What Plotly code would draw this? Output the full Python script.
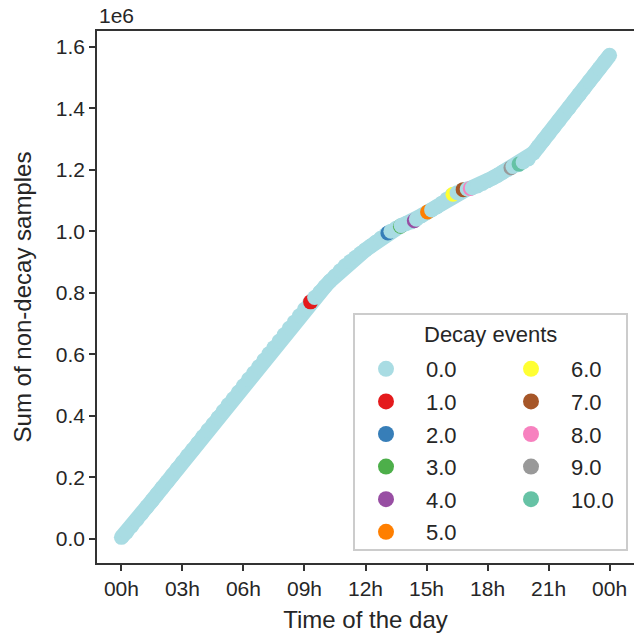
import plotly.graph_objects as go

# ---- data ----
time_h = [
    0.00, 0.25, 0.50, 0.75, 1.00, 1.25, 1.50, 1.75, 2.00, 2.25, 2.50, 2.75,
    3.00, 3.25, 3.50, 3.75, 4.00, 4.25, 4.50, 4.75, 5.00, 5.25, 5.50, 5.75,
    6.00, 6.25, 6.50, 6.75, 7.00, 7.25, 7.50, 7.75, 8.00, 8.25, 8.50, 8.75,
    9.00, 9.25, 9.30, 9.50, 9.75, 10.00, 10.25, 10.50, 10.75, 11.00, 11.25,
    11.50, 11.75, 12.00, 12.25, 12.50, 12.75, 13.00, 13.10, 13.25, 13.50,
    13.72, 13.75, 14.00, 14.25, 14.40, 14.50, 14.75, 15.00, 15.05, 15.25,
    15.50, 15.75, 16.00, 16.25, 16.30, 16.50, 16.75, 16.80, 17.00, 17.15,
    17.25, 17.50, 17.75, 18.00, 18.25, 18.50, 18.75, 19.00, 19.15, 19.25,
    19.50, 19.55, 19.75, 20.00, 20.25, 20.50, 20.75, 21.00, 21.25, 21.50,
    21.75, 22.00, 22.25, 22.50, 22.75, 23.00, 23.25, 23.50, 23.75, 24.00,
]
cum_samples_m = [
    0.005, 0.022, 0.042, 0.062, 0.083, 0.104, 0.124, 0.145, 0.166, 0.186, 0.207, 0.228,
    0.249, 0.270, 0.290, 0.311, 0.332, 0.353, 0.373, 0.394, 0.415, 0.436, 0.456, 0.477,
    0.498, 0.519, 0.539, 0.560, 0.581, 0.602, 0.622, 0.643, 0.664, 0.685, 0.705, 0.726,
    0.747, 0.767, 0.771, 0.785, 0.802, 0.820, 0.838, 0.855, 0.872, 0.888, 0.902,
    0.915, 0.928, 0.940, 0.952, 0.965, 0.978, 0.990, 0.995, 1.001, 1.010,
    1.017, 1.019, 1.026, 1.031, 1.035, 1.040, 1.051, 1.061, 1.063, 1.070,
    1.080, 1.092, 1.105, 1.118, 1.121, 1.126, 1.134, 1.136, 1.138, 1.140,
    1.142, 1.148, 1.156, 1.165, 1.174, 1.183, 1.193, 1.202, 1.207, 1.211,
    1.217, 1.219, 1.226, 1.236, 1.255, 1.276, 1.297, 1.318, 1.339, 1.360,
    1.381, 1.402, 1.424, 1.445, 1.466, 1.488, 1.509, 1.530, 1.552, 1.573,
]
decay_events = [
    0, 0, 0, 0, 0, 0, 0, 0, 0, 0, 0, 0,
    0, 0, 0, 0, 0, 0, 0, 0, 0, 0, 0, 0,
    0, 0, 0, 0, 0, 0, 0, 0, 0, 0, 0, 0,
    0, 0, 1, 0, 0, 0, 0, 0, 0, 0, 0,
    0, 0, 0, 0, 0, 0, 0, 2, 0, 0,
    3, 0, 0, 0, 4, 0, 0, 0, 5, 0,
    0, 0, 0, 0, 6, 0, 0, 7, 0, 8,
    0, 0, 0, 0, 0, 0, 0, 0, 9, 0,
    0, 10, 0, 0, 0, 0, 0, 0, 0, 0,
    0, 0, 0, 0, 0, 0, 0, 0, 0, 0,
]
event_levels = [0, 1, 2, 3, 4, 5, 6, 7, 8, 9, 10]
event_labels = ["0.0", "1.0", "2.0", "3.0", "4.0", "5.0", "6.0", "7.0", "8.0", "9.0", "10.0"]
event_colors = ["#a9dce3", "#e41a1c", "#377eb8", "#4daf4a", "#984ea3", "#ff7f00",
                "#ffff33", "#a65628", "#f781bf", "#999999", "#66c2a5"]
x_tick_vals = [0, 3, 6, 9, 12, 15, 18, 21, 24]
x_tick_text = ["00h", "03h", "06h", "09h", "12h", "15h", "18h", "21h", "00h"]
y_tick_vals = [0.0, 0.2, 0.4, 0.6, 0.8, 1.0, 1.2, 1.4, 1.6]

FONT = "Liberation Sans, Arial, sans-serif"
TXT = "#262626"
SPINE = "#333333"

color_of = dict(zip(event_levels, event_colors))
point_colors = [color_of[d] for d in decay_events]

fig = go.Figure()
# dense band joining the samples (sits under the markers)
fig.add_trace(go.Scatter(
    x=time_h, y=cum_samples_m, mode="lines",
    line=dict(color=event_colors[0], width=15, shape="linear"),
    showlegend=False, hoverinfo="skip",
))
fig.add_trace(go.Scatter(
    x=time_h, y=cum_samples_m, mode="markers",
    marker=dict(size=15, color=point_colors, line=dict(width=0), opacity=1),
    showlegend=False, hoverinfo="x+y",
))

for i, (lvl, lab, col) in enumerate(zip(event_levels, event_labels, event_colors)):
    fig.add_trace(go.Scatter(
        x=[None], y=[None], mode="markers", name=lab,
        marker=dict(size=16, color=col),
        legend="legend" if lvl <= 5 else "legend2",
        legendgroup=lab,
    ))

# plot area in pixels: x 97..634, y 31..563
def px_x(p):
    return (p - 97) / 537.0

def px_y(p):
    return (563 - p) / 532.0

legend_common = dict(
    font=dict(family=FONT, size=22, color=TXT),
    bgcolor="rgba(0,0,0,0)", borderwidth=0,
    xanchor="left", yanchor="top", tracegroupgap=1,
    itemsizing="trace", itemwidth=70,
)

fig.update_layout(
    width=634, height=637,
    margin=dict(l=97, r=0, t=31, b=74),
    paper_bgcolor="white", plot_bgcolor="white",
    font=dict(family=FONT, color=TXT, size=21),
    xaxis=dict(
        range=[-1.2, 25.2], tickvals=x_tick_vals, ticktext=x_tick_text,
        showgrid=False, zeroline=False, showline=True, linecolor=SPINE,
        linewidth=1.5, mirror=True, ticks="outside", ticklen=6, tickwidth=1.5,
        tickcolor=SPINE, tickfont=dict(size=21, color=TXT),
        title=dict(text="Time of the day", font=dict(size=24, color=TXT), standoff=12),
    ),
    yaxis=dict(
        range=[-0.0785, 1.652], tickvals=y_tick_vals, tickformat=".1f",
        showgrid=False, zeroline=False, showline=True, linecolor=SPINE,
        linewidth=1.5, mirror=False, ticks="outside", ticklen=6, tickwidth=1.5,
        tickcolor=SPINE, tickfont=dict(size=21, color=TXT),
        title=dict(text="Sum of non-decay samples", font=dict(size=24, color=TXT), standoff=17),
    ),
    legend=dict(x=px_x(346), y=px_y(348), **legend_common),
    legend2=dict(x=px_x(491), y=px_y(348), **legend_common),
    shapes=[dict(
        type="rect", xref="paper", yref="paper",
        x0=px_x(354), x1=px_x(627), y0=px_y(550), y1=px_y(314),
        line=dict(color="#cccccc", width=2), fillcolor="white", layer="above",
        opacity=1,
    )],
    annotations=[
        dict(text="1e6", xref="paper", yref="paper", x=0, y=1, xanchor="left",
             yanchor="bottom", showarrow=False, font=dict(size=21, color=TXT), yshift=2),
        dict(text="Decay events", xref="paper", yref="paper", x=px_x(490), y=px_y(334),
             xanchor="center", yanchor="middle", showarrow=False,
             font=dict(size=22, color=TXT)),
    ],
)

fig.write_html("out.html")
